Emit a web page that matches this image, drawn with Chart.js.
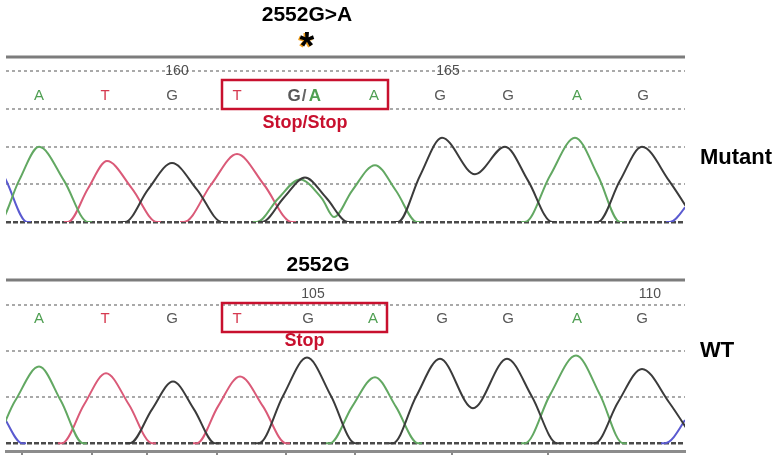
<!DOCTYPE html>
<html>
<head>
<meta charset="utf-8">
<title>2552G&gt;A chromatogram</title>
<script src="https://cdn.jsdelivr.net/npm/chart.js@4.4.1/dist/chart.umd.min.js"></script>
<style>
  html, body { margin: 0; padding: 0; background: #fff; }
  #wrap { position: relative; width: 782px; height: 463px; overflow: hidden; }
  canvas { position: absolute; left: 0; }
  #chartMutant { top: 0; }
  #chartWT { top: 240px; }
</style>
</head>
<body>
<div id="wrap">
  <canvas id="chartMutant" width="782" height="240"></canvas>
  <canvas id="chartWT" width="782" height="223"></canvas>
</div>
<script>
// base calls and positions (x in scan units)
const mutantBases = ["A", "T", "G", "T", "G/A", "A", "G", "G", "A", "G"];
const mutantBasePos = [33, 99, 166, 231, 298, 368, 434, 502, 571, 637];
const mutantNumbers = ["160", "165"];
const mutantNumberPos = [171, 442];

const wtBases = ["A", "T", "G", "T", "G", "A", "G", "G", "A", "G"];
const wtBasePos = [33, 99, 166, 231, 302, 367, 436, 502, 571, 636];
const wtNumbers = ["105", "110"];
const wtNumberPos = [307, 644];
const wtScanTicks = [16, 86, 141, 211, 280, 349, 446, 542];

// traces [scan, signal], null = no signal drawn
const mutantTraceG = [
  [115, 0], [119, 0], [142, 860], [166, 1565], [191, 860], [216, 0], [220, 0], [236, null],
  [252, 0], [256, 0], [278, 650], [299, 1180], [320, 650], [342, 0], [346, 0], [369, null],
  [388, 0], [392, 0], [414, 1230], [436, 2240], [469, 1270], [499, 2000], [522, 1100], [546, 0], [550, 0], [570, null],
  [588, 0], [592, 0], [614, 1100], [636, 2000], [663, 1100], [690, 0]
];
const mutantTraceA = [
  [-11, 0], [-7, 0], [13, 1100], [33, 2000], [58, 1100], [82, 0], [86, 0], [170, null],
  [247, 0], [251, 0], [272, 620], [294, 1130], [316, 620], [328, 130], [346, 830], [369, 1510], [390, 830], [411, 0], [415, 0], [470, null],
  [515, 0], [519, 0], [544, 1230], [569, 2240], [592, 1230], [614, 0], [618, 0]
];
const mutantTraceT = [
  [58, 0], [62, 0], [82, 890], [101, 1620], [126, 890], [151, 0], [155, 0], [165, null],
  [174, 0], [178, 0], [205, 990], [231, 1805], [258, 990], [286, 0], [290, 0]
];
const mutantTraceC = [
  [-12, 1700], [0, 1110], [21, 0], [25, 0], [340, null],
  [660, 0], [664, 0], [679, 390], [690, 900]
];

const wtTraceG = [
  [120, 0], [124, 0], [146, 735], [167, 1340], [188, 735], [209, 0], [213, 0], [231, null],
  [249, 0], [253, 0], [277, 1025], [301, 1860], [325, 1025], [349, 0], [353, 0], [370, null],
  [383, 0], [387, 0], [410, 1010], [434, 1835], [467, 760], [501, 1835], [526, 1010], [551, 0], [555, 0], [570, null],
  [585, 0], [589, 0], [612, 890], [636, 1615], [663, 890], [690, 0]
];
const wtTraceA = [
  [-19, 0], [-15, 0], [9, 915], [33, 1665], [55, 915], [77, 0], [81, 0], [200, null],
  [320, 0], [324, 0], [346, 790], [369, 1435], [390, 790], [412, 0], [416, 0], [465, null],
  [515, 0], [519, 0], [544, 1050], [570, 1905], [594, 1050], [617, 0], [621, 0]
];
const wtTraceT = [
  [52, 0], [56, 0], [78, 835], [100, 1520], [123, 835], [146, 0], [150, 0], [168, null],
  [187, 0], [191, 0], [212, 800], [234, 1450], [257, 800], [280, 0], [284, 0]
];
const wtTraceC = [
  [-10, 950], [0, 490], [16, 0], [20, 0], [330, null],
  [655, 0], [659, 0], [679, 505], [690, 1000]
];

const mutantGrid = [0, 1000, 2000, 3000, 4000];
const wtGrid = [0, 1000, 2000, 3000];

const traceColours = { A: "#62a862", T: "#da5a78", G: "#3b3b3b", C: "#5a5ad0" };
const letterColours = { A: "#4f9f52", T: "#d63a50", G: "#585858", C: "#4a4ad0" };
const RED = "#c8102e";

const decorPlugin = {
  id: "decor",
  afterDraw(chart, args, o) {
    const ctx = chart.ctx;
    const area = chart.chartArea;
    const xs = chart.scales.x;
    ctx.save();

    // solid top rule
    ctx.strokeStyle = "#7c7c7c";
    ctx.lineWidth = 3;
    ctx.beginPath();
    ctx.moveTo(area.left, area.top);
    ctx.lineTo(area.right, area.top);
    ctx.stroke();

    // position numbers
    ctx.textAlign = "center";
    ctx.textBaseline = "middle";
    ctx.fillStyle = "#505050";
    ctx.font = '14px "Liberation Sans Narrow", "Liberation Sans", sans-serif';
    o.numbers.forEach((n, i) => {
      ctx.fillText(n, xs.getPixelForValue(o.numberPos[i]), area.top + 14);
    });

    // base calls
    const rowY = area.top + 39;
    o.bases.forEach((b, i) => {
      const px = xs.getPixelForValue(o.basePos[i]);
      if (b.includes("/")) {
        const parts = b.split("/");
        ctx.font = 'bold 17px "Liberation Sans", sans-serif';
        ctx.fillStyle = letterColours[parts[0]];
        ctx.fillText(parts[0], px - 10, rowY);
        ctx.fillStyle = "#666";
        ctx.fillText("/", px, rowY);
        ctx.fillStyle = letterColours[parts[1]];
        ctx.fillText(parts[1], px + 11, rowY);
      } else {
        ctx.font = '15px "Liberation Sans Narrow", "Liberation Sans", sans-serif';
        ctx.fillStyle = letterColours[b];
        ctx.fillText(b, px, rowY);
      }
    });

    // codon box
    const bx0 = xs.getPixelForValue(o.basePos[o.codonFrom]) - 15;
    const bx1 = xs.getPixelForValue(o.basePos[o.codonTo]) + 14;
    ctx.strokeStyle = RED;
    ctx.lineWidth = 2.5;
    ctx.strokeRect(bx0, area.top + 23, bx1 - bx0, 29);
    ctx.fillStyle = RED;
    ctx.font = 'bold 18px "Liberation Sans", sans-serif';
    ctx.fillText(o.note, (bx0 + bx1) / 2, area.top + o.noteDy);

    // title above panel
    ctx.fillStyle = "#000";
    ctx.font = 'bold 21px "Liberation Sans", sans-serif';
    ctx.fillText(o.title, o.titleX, area.top + o.titleDy);
    if (o.asterisk) {
      ctx.font = 'bold 38px "Liberation Sans", sans-serif';
      ctx.textBaseline = "alphabetic";
      ctx.fillStyle = "#f0a020";
      ctx.fillText("*", o.titleX - 1.5, 60);
      ctx.fillStyle = "#000";
      ctx.fillText("*", o.titleX, 59);
      ctx.textBaseline = "middle";
    }

    // sample label
    ctx.textAlign = "left";
    ctx.font = 'bold 22px "Liberation Sans", sans-serif';
    ctx.fillStyle = "#000";
    ctx.fillText(o.side, 700, area.top + o.sideDy);
    ctx.restore();
  }
};

function trace(label, points, colour) {
  return {
    label: label,
    data: points,
    borderColor: colour,
    borderWidth: 2,
    pointRadius: 0,
    fill: false,
    spanGaps: false,
    cubicInterpolationMode: "monotone",
  };
}

function makeChart(elementId, cfg) {
  const ctx = document.getElementById(elementId).getContext("2d");
  return new Chart(ctx, {
    type: "line",
    data: {
      datasets: [
        trace("G", cfg.g, traceColours.G),
        trace("A", cfg.a, traceColours.A),
        trace("T", cfg.t, traceColours.T),
        trace("C", cfg.c, traceColours.C),
      ],
    },
    options: {
      responsive: false,
      animation: false,
      layout: { padding: cfg.padding },
      scales: {
        x: {
          type: "linear",
          min: 0,
          max: 679,
          display: cfg.scanTicks ? true : false,
          afterBuildTicks: (s) => {
            if (cfg.scanTicks) s.ticks = cfg.scanTicks.map((v) => ({ value: v }));
          },
          ticks: { display: false },
          grid: {
            drawOnChartArea: false,
            drawTicks: true,
            tickLength: 4,
            color: "#8a8a8a",
            lineWidth: 2,
          },
          border: { display: true, color: "#8c8c8c", width: 3 },
        },
        y: {
          min: cfg.yMin,
          max: cfg.yMax,
          afterBuildTicks: (s) => {
            s.ticks = cfg.grid.map((v) => ({ value: v }));
          },
          ticks: { display: false },
          grid: {
            drawTicks: false,
            color: (c) => (c.tick && c.tick.value === 0 ? "#4a4a4a" : "#a9a9a9"),
            lineWidth: (c) => (c.tick && c.tick.value === 0 ? 2.5 : 2),
          },
          border: {
            display: false,
            dash: (c) => (c.tick && c.tick.value === 0 ? [5, 2] : [3, 3]),
          },
        },
      },
      plugins: {
        legend: { display: false },
        tooltip: { enabled: false },
        decor: cfg.decor,
      },
    },
    plugins: [decorPlugin],
  });
}

makeChart("chartMutant", {
  g: mutantTraceG, a: mutantTraceA, t: mutantTraceT, c: mutantTraceC,
  grid: mutantGrid, yMin: 0, yMax: 4385,
  padding: { top: 57, left: 6, right: 97, bottom: 18 },
  decor: {
    bases: mutantBases, basePos: mutantBasePos,
    numbers: mutantNumbers, numberPos: mutantNumberPos,
    codonFrom: 3, codonTo: 5,
    note: "Stop/Stop", noteDy: 66,
    title: "2552G>A", titleX: 307, titleDy: -42, asterisk: true,
    side: "Mutant", sideDy: 101,
  },
});

makeChart("chartWT", {
  g: wtTraceG, a: wtTraceA, t: wtTraceT, c: wtTraceC,
  grid: wtGrid, yMin: -170, yMax: 3547, scanTicks: wtScanTicks,
  padding: { top: 40, left: 6, right: 97, bottom: 8 },
  decor: {
    bases: wtBases, basePos: wtBasePos,
    numbers: wtNumbers, numberPos: wtNumberPos,
    codonFrom: 3, codonTo: 5,
    note: "Stop", noteDy: 61,
    title: "2552G", titleX: 318, titleDy: -15, asterisk: false,
    side: "WT", sideDy: 71,
  },
});
</script>
</body>
</html>
